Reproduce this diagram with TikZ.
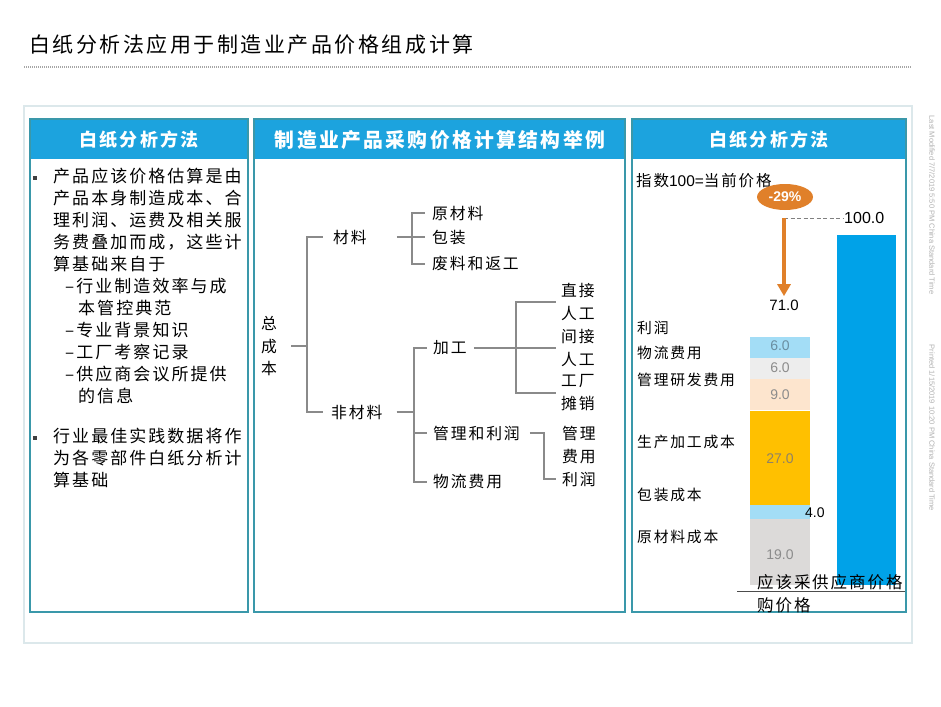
\documentclass[tikz,border=0pt]{standalone}
\usepackage{fontspec}
\setmainfont[LetterSpace=12]{Noto Sans CJK SC}
\newfontfamily\numfont{Liberation Sans}
\usepackage{xcolor}
\usepackage{tikz}
\usetikzlibrary{arrows.meta,shapes.geometric,positioning}

\definecolor{hdrblue}{HTML}{1CA3DE}
\definecolor{frame}{HTML}{3A98AA}
\definecolor{outerbox}{HTML}{DCE8EB}
\definecolor{barblue}{HTML}{00A2E8}
\definecolor{segblue}{HTML}{A3DDF6}
\definecolor{seggray}{HTML}{EDEDED}
\definecolor{segpeach}{HTML}{FDE5CE}
\definecolor{segyellow}{HTML}{FFC000}
\definecolor{segstone}{HTML}{DCDAD9}
\definecolor{arroworange}{HTML}{E0802A}
\definecolor{treegray}{HTML}{8A8A8A}
\definecolor{labgray}{HTML}{8C8C8C}
\definecolor{stonebrown}{HTML}{8F8266}
\definecolor{slateblue}{HTML}{6A8EA0}

\begin{document}
\begin{tikzpicture}[x=1pt, y=-1pt,
    hdr/.style={text=white, inner sep=0pt, font=\fontsize{18}{20}\selectfont\bfseries},
    body/.style={inner sep=0pt, anchor=north west, align=left, font=\fontsize{17}{22}\selectfont},
    leaf/.style={inner sep=0pt, anchor=west, align=left, font=\fontsize{15.8}{23}\selectfont},
    branch/.style={treegray, line width=1.3pt},
    bul/.style={fill=black!75, inner sep=0pt, minimum size=3.5pt},
    seglab/.style={font=\numfont\fontsize{14}{16}\selectfont, text=labgray},
    axlab/.style={inner sep=0pt, align=left, font=\fontsize{16.5}{23}\selectfont}]
    \useasboundingbox (0,0) rectangle (941,706);
    \fill[white] (0,0) rectangle (941,706);
    \node[anchor=west, inner sep=0pt, font=\fontsize{21}{24}\selectfont] (title) at (29,45) {白纸分析法应用于制造业产品价格组成计算};
    \draw[gray!70, line width=1.2pt, dash pattern=on 1pt off 1pt] (24,67) -- (911,67);
    \draw[outerbox, line width=1.5pt] (24,106) rectangle (912,643);
    \foreach \xa/\xb in {30/248, 254/625, 632/906} {
        \fill[hdrblue] (\xa,119) rectangle (\xb,159);
        \draw[frame, line width=1.8pt] (\xa,119) rectangle (\xb,612);
    }
    \node[hdr] (h1) at (139,140) {白纸分析方法};
    \node[hdr, font=\fontsize{19.8}{20}\selectfont\bfseries] (h2) at (440,140) {制造业产品采购价格计算结构举例};
    \node[hdr] (h3) at (769,140) {白纸分析方法};

    \node[bul] (b1) at (35,178) {};
    \node[body] (p1) at (53,168) {产品应该价格估算是由\\产品本身制造成本、合\\理利润、运费及相关服\\务费叠加而成，这些计\\算基础来自于\\\hspace*{12pt}–行业制造效率与成\\\hspace*{25pt}本管控典范\\\hspace*{12pt}–专业背景知识\\\hspace*{12pt}–工厂考察记录\\\hspace*{12pt}–供应商会议所提供\\\hspace*{25pt}的信息};
    \node[bul] (b2) at (35,438) {};
    \node[body] (p2) at (53,428) {行业最佳实践数据将作\\为各零部件白纸分析计\\算基础};

    \node[leaf, anchor=center, align=center, font=\fontsize{15.8}{22.5}\selectfont] (zcb) at (269,346) {总\\成\\本};
    \node[leaf] (cl) at (333,237) {材料};
    \node[leaf] (fcl) at (331,412) {非材料};
    \node[leaf] (ycl) at (432,213) {原材料};
    \node[leaf] (bz) at (432,237) {包装};
    \node[leaf] (flfg) at (432,264) {废料和返工};
    \node[leaf] (jg) at (433,348) {加工};
    \node[leaf] (gllr) at (433,433) {管理和利润};
    \node[leaf] (wlfy) at (433,482) {物流费用};
    \node[leaf] (zjrg) at (561,302) {直接\\人工};
    \node[leaf] (jjrg) at (561,348) {间接\\人工};
    \node[leaf] (gctx) at (561,393) {工厂\\摊销};
    \node[leaf] (glfy) at (562,445) {管理\\费用};
    \node[leaf] (lr) at (562,479) {利润};
    \coordinate (t1) at (307,346);
    \coordinate (t2) at (412,237);
    \coordinate (t3) at (414,412);
    \coordinate (t4) at (516,348);
    \coordinate (t5) at (544,433);
    \draw[branch, shorten <=14pt] (zcb.east) -- (t1);
    \draw[branch, shorten >=10pt] (t1) |- (cl.west);
    \draw[branch, shorten >=8pt] (t1) |- (fcl.west);
    \draw[branch, shorten <=30pt, shorten >=7pt] (cl.east) -- (bz.west);
    \draw[branch, shorten >=7pt] (t2) |- (ycl.west);
    \draw[branch, shorten >=7pt] (t2) |- (flfg.west);
    \draw[branch, shorten <=14pt] (fcl.east) -- (t3);
    \draw[branch, shorten >=6pt] (t3) |- (jg.west);
    \draw[branch, shorten >=6pt] (t3) |- (gllr.west);
    \draw[branch, shorten >=6pt] (t3) |- (wlfy.west);
    \draw[branch, shorten <=7pt, shorten >=5pt] (jg.east) -- (jjrg.west);
    \draw[branch, shorten >=5pt] (t4) |- (zjrg.west);
    \draw[branch, shorten >=5pt] (t4) |- (gctx.west);
    \draw[branch, shorten <=10pt, shorten >=6pt] (gllr.east) -- (t5) |- (lr.west);

    \node[anchor=west, inner sep=0pt, font=\fontsize{15.5}{18}\selectfont] (idx) at (636,181) {指数{\numfont 100=}当前价格};
    \fill[barblue] (837,235) rectangle (896,585);
    \foreach \yb/\yt/\c in {585/518.5/segstone, 518.5/504.5/segblue, 504.5/410/segyellow, 410/378.5/segpeach, 378.5/357.5/seggray, 357.5/336.5/segblue} {
        \fill[\c] (750,\yb) rectangle (810,\yt);
        \draw[white, line width=0.6pt] (750,\yt) -- (810,\yt);
    }
    \node[seglab] (s1) at (780,555) {19.0};
    \node[seglab, text=black, anchor=west, inner sep=0pt] (s2) at (805,513) {4.0};
    \node[seglab, text=stonebrown] (s3) at (780,459) {27.0};
    \node[seglab] (s4) at (780,395) {9.0};
    \node[seglab] (s5) at (780,368) {6.0};
    \node[seglab, text=slateblue] (s6) at (780,346) {6.0};
    \foreach \n/\y/\t in {a/328/利润, b/353/物流费用, c/380/管理研发费用, d/442/生产加工成本, e/495/包装成本, f/537/原材料成本} {
        \node[anchor=west, inner sep=0pt, font=\fontsize{14.8}{16}\selectfont] (lab\n) at (637,\y) {\t};
    }
    \node[ellipse, fill=arroworange, minimum width=56pt, minimum height=26pt, inner sep=0pt, text=white, font=\numfont\fontsize{14}{16}\selectfont\bfseries] (pct) at (785,197) {-29\%};
    \coordinate (top) at (784,218);
    \node[anchor=west, inner sep=1pt, font=\numfont\fontsize{16}{18}\selectfont] (v100) at (843,218) {100.0};
    \draw[gray, dash pattern=on 4pt off 2.5pt, line width=0.9pt] (top) -- (v100.west);
    \node[font=\numfont\fontsize{15}{18}\selectfont] (v71) at (784,305) {71.0};
    \draw[arroworange, line width=4pt, -{Triangle[width=13pt,length=12pt]}] (top) -- (v71.north);
    \coordinate (axl) at (737,591);
    \coordinate (axr) at (905,591);
    \draw[black!70, line width=0.8pt] (axl) -- (axr);
    \node[axlab, anchor=west] (c1) at (757,594) {应该采\\购价格};
    \node[axlab, anchor=west] (c2) at (812,582) {供应商价格};

    \node[rotate=-90, text=gray!60, font=\numfont\fontsize{7.5}{9}\selectfont] (mod) at (932,205) {Last Modified 7/7/2019 5:50 PM China Standard Time};
    \node[rotate=-90, text=gray!60, font=\numfont\fontsize{7.5}{9}\selectfont] (prt) at (932,428) {Printed 1/15/2019 10:20 PM China Standard Time};
\end{tikzpicture}
\end{document}
